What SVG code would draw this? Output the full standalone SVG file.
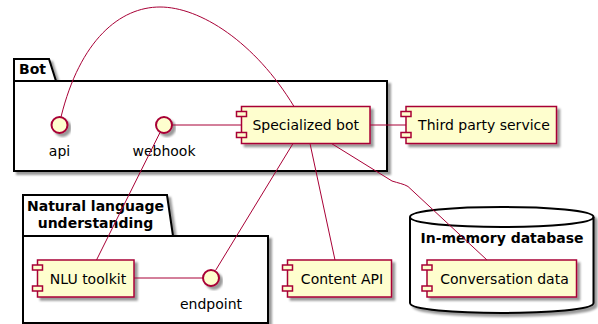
<svg xmlns="http://www.w3.org/2000/svg" width="598" height="324" viewBox="0 0 598 324">
  <defs>
    <filter id="shadow" x="-10%" y="-10%" width="130%" height="140%">
      <feDropShadow dx="3" dy="3" stdDeviation="1.2" flood-color="#000" flood-opacity="0.4"/>
    </filter>
  </defs>
  <style>
    text { font-family: "DejaVu Sans", "Liberation Sans", sans-serif; font-size: 14px; fill: #000; }
    .title { font-weight: bold; }
    .pkg { fill: #fff; stroke: #000; stroke-width: 2; }
    .comp { fill: #FEFECE; stroke: #A80036; stroke-width: 1.5; }
    .iface { fill: #FEFECE; stroke: #A80036; stroke-width: 2; }
    .link { fill: none; stroke: #A80036; stroke-width: 1; }
    .sh { filter: url(#shadow); }
  </style>

  <!-- package: Bot -->
  <g id="pkg-bot">
    <path class="pkg sh" d="M14,59 L49,59 L56,81 L387,81 L387,171 L14,171 Z"/>
    <line x1="14" y1="81" x2="56" y2="81" stroke="#000" stroke-width="2"/>
    <text class="title" x="19" y="74">Bot</text>
  </g>

  <!-- package: Natural language understanding -->
  <g id="pkg-nlu">
    <path class="pkg sh" d="M23,195 L167,195 L173,236 L268,236 L268,323 L23,323 Z"/>
    <line x1="23" y1="236" x2="173" y2="236" stroke="#000" stroke-width="2"/>
    <text class="title" x="95.5" y="211" text-anchor="middle">Natural language</text>
    <text class="title" x="95.5" y="227.5" text-anchor="middle">understanding</text>
  </g>

  <!-- database: In-memory database -->
  <g id="db-memory">
    <path class="pkg sh" d="M410,217 C410,203.7 593.5,203.7 593.5,217 L593.5,303 C593.5,316.3 410,316.3 410,303 Z"/>
    <path d="M410,217 C410,230.3 593.5,230.3 593.5,217" fill="none" stroke="#000" stroke-width="2"/>
    <text class="title" x="502" y="243" text-anchor="middle">In-memory database</text>
  </g>

  <!-- interfaces -->
  <g id="if-api">
    <circle class="iface sh" cx="59.5" cy="125" r="8"/>
    <text x="59.5" y="156" text-anchor="middle">api</text>
  </g>
  <g id="if-webhook">
    <circle class="iface sh" cx="164" cy="125" r="8"/>
    <text x="164" y="156" text-anchor="middle">webhook</text>
  </g>
  <g id="if-endpoint">
    <circle class="iface sh" cx="211" cy="278" r="8"/>
    <text x="211" y="309" text-anchor="middle">endpoint</text>
  </g>

  <!-- components -->
  <g id="comp-specialized-bot">
    <rect class="comp sh" x="241.5" y="106.5" width="128.5" height="37"/>
    <rect class="comp" x="236.5" y="111.5" width="10" height="5"/>
    <rect class="comp" x="236.5" y="132.5" width="10" height="5"/>
    <text x="305.75" y="130" text-anchor="middle">Specialized bot</text>
  </g>
  <g id="comp-third-party">
    <rect class="comp sh" x="406" y="106.5" width="150.5" height="37"/>
    <rect class="comp" x="401" y="111.5" width="10" height="5"/>
    <rect class="comp" x="401" y="132.5" width="10" height="5"/>
    <text x="484" y="130" text-anchor="middle">Third party service</text>
  </g>
  <g id="comp-nlu-toolkit">
    <rect class="comp sh" x="37.5" y="260" width="96.5" height="37"/>
    <rect class="comp" x="32.5" y="265" width="10" height="5"/>
    <rect class="comp" x="32.5" y="286" width="10" height="5"/>
    <text x="88" y="283.5" text-anchor="middle">NLU toolkit</text>
  </g>
  <g id="comp-content-api">
    <rect class="comp sh" x="287.5" y="260" width="104" height="37"/>
    <rect class="comp" x="282.5" y="265" width="10" height="5"/>
    <rect class="comp" x="282.5" y="286" width="10" height="5"/>
    <text x="342" y="283.5" text-anchor="middle">Content API</text>
  </g>
  <g id="comp-conversation-data">
    <rect class="comp sh" x="427" y="260" width="149.5" height="37"/>
    <rect class="comp" x="422" y="265" width="10" height="5"/>
    <rect class="comp" x="422" y="286" width="10" height="5"/>
    <text x="504.5" y="283.5" text-anchor="middle">Conversation data</text>
  </g>

  <!-- connectors -->
  <g id="links">
    <path class="link" d="M61,117 C80,40 120,7 160,7 C200,7 255,42 294,106.5"/>
    <line class="link" x1="172" y1="125" x2="241.5" y2="125"/>
    <line class="link" x1="370" y1="125" x2="406" y2="125"/>
    <line class="link" x1="160" y1="132.5" x2="96.5" y2="260"/>
    <line class="link" x1="134" y1="278" x2="203" y2="278"/>
    <line class="link" x1="293" y1="143.5" x2="215.5" y2="270.5"/>
    <line class="link" x1="310" y1="143.5" x2="335" y2="260"/>
    <path class="link" d="M331.5,143.5 L392,181 C398,183 404,184 408,186.5 L487,260"/>
  </g>
</svg>
